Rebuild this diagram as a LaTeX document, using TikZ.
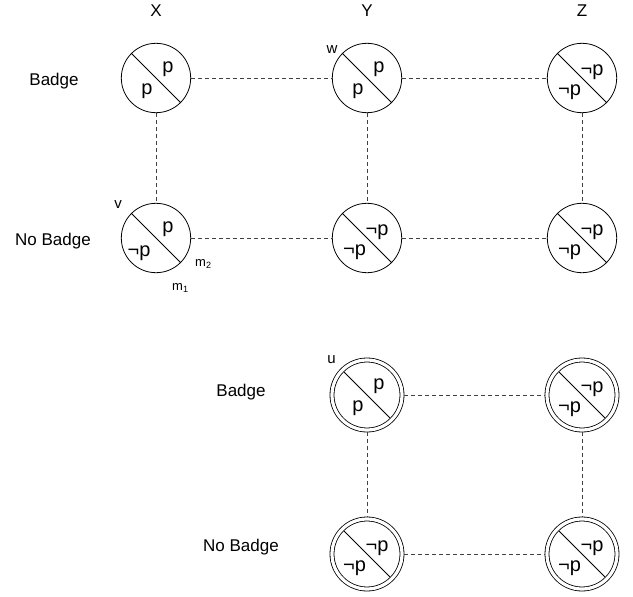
\documentclass[tikz,border=0pt]{standalone}
\usepackage{fontspec}
\setmainfont{Liberation Sans}
\usetikzlibrary{calc}
\begin{document}
\begin{tikzpicture}[x=1pt,y=-1pt,
  st/.style={circle,draw,line width=0.8pt,minimum size=69.4pt,inner sep=0pt},
  dst/.style={circle,draw,line width=0.8pt,double,double distance=3.2pt,minimum size=70pt,inner sep=0pt,outer sep=2.4pt},
  lnk/.style={draw=black!75,line width=0.7pt,dash pattern=on 4pt off 3pt},
  diag/.style={line width=0.8pt},
  lbl/.style={font=\fontsize{17}{19}\selectfont,inner sep=0pt,anchor=base},
  sml/.style={font=\fontsize{15}{17}\selectfont,inner sep=0pt,anchor=base},
  msty/.style={font=\fontsize{13}{15}\selectfont,inner sep=0pt,anchor=base west},
  sym/.style={font=\fontsize{20}{22}\selectfont,anchor=base,inner sep=0pt}]
\useasboundingbox (0,0) rectangle (633,597);
% column headers
\node[lbl] (hx) at (156,16.5) {X};
\node[lbl] (hy) at (367,16.5) {Y};
\node[lbl] (hz) at (582,16.5) {Z};
% row labels
\node[lbl] (r1) at (54,85) {Badge};
\node[lbl] (r2) at (53,245) {No Badge};
\node[lbl] (r3) at (241,396.5) {Badge};
\node[lbl] (r4) at (241,551.5) {No Badge};
% states (single)
\node[st] (xb) at (156,78) {};
\node[st] (yb) at (367,78) {};
\node[st] (zb) at (582,78) {};
\node[st] (xn) at (156,238) {};
\node[st] (yn) at (367,238) {};
\node[st] (zn) at (582,238) {};
% states (double)
\node[dst] (ub) at (367,395) {};
\node[dst] (wb) at (582,395) {};
\node[dst] (un) at (367,554) {};
\node[dst] (wn) at (582,554) {};
% diagonals
\foreach \n in {xb,yb,zb,xn,yn,zn}{\draw[diag] (\n.135) -- (\n.-45);}
\foreach \n in {ub,wb,un,wn}{\draw[diag] ($(\n.center)+(135:33pt)$) -- ($(\n.center)+(-45:33pt)$);}
% contents
\node[sym] at ($(xb)+(12,-5.3)$) {p};
\node[sym] at ($(xb)+(-9,16)$) {p};
\node[sym] at ($(yb)+(12,-5.3)$) {p};
\node[sym] at ($(yb)+(-9,16)$) {p};
\node[sym] at ($(zb)+(10,-3)$) {¬p};
\node[sym] at ($(zb)+(-12.5,17)$) {¬p};
\node[sym] at ($(xn)+(12,-5.3)$) {p};
\node[sym] at ($(xn)+(-17,18)$) {¬p};
\node[sym] at ($(yn)+(10,-3)$) {¬p};
\node[sym] at ($(yn)+(-12.5,17)$) {¬p};
\node[sym] at ($(zn)+(10,-3)$) {¬p};
\node[sym] at ($(zn)+(-12.5,17)$) {¬p};
\node[sym] at ($(ub)+(12,-5.3)$) {p};
\node[sym] at ($(ub)+(-9,16)$) {p};
\node[sym] at ($(wb)+(10,-3)$) {¬p};
\node[sym] at ($(wb)+(-12.5,17)$) {¬p};
\node[sym] at ($(un)+(10,-3)$) {¬p};
\node[sym] at ($(un)+(-12.5,17)$) {¬p};
\node[sym] at ($(wn)+(10,-3)$) {¬p};
\node[sym] at ($(wn)+(-12.5,17)$) {¬p};
% names
\node[sml] (lv) at (118,208) {v};
\node[sml] (lw) at (332,53) {w};
\node[sml] (lu) at (331.5,363) {u};
\node[msty] (m2) at (195,266.5) {m\textsubscript{2}};
\node[msty] (m1) at (172,290) {m\textsubscript{1}};
% links
\draw[lnk] (xb) -- (yb);
\draw[lnk] (yb) -- (zb);
\draw[lnk] (xn) -- (yn);
\draw[lnk] (yn) -- (zn);
\draw[lnk] (xb) -- (xn);
\draw[lnk] (yb) -- (yn);
\draw[lnk] (zb) -- (zn);
\draw[lnk] (ub) -- (wb);
\draw[lnk] (un) -- (wn);
\draw[lnk] (ub) -- (un);
\draw[lnk] (wb) -- (wn);
\end{tikzpicture}
\end{document}
